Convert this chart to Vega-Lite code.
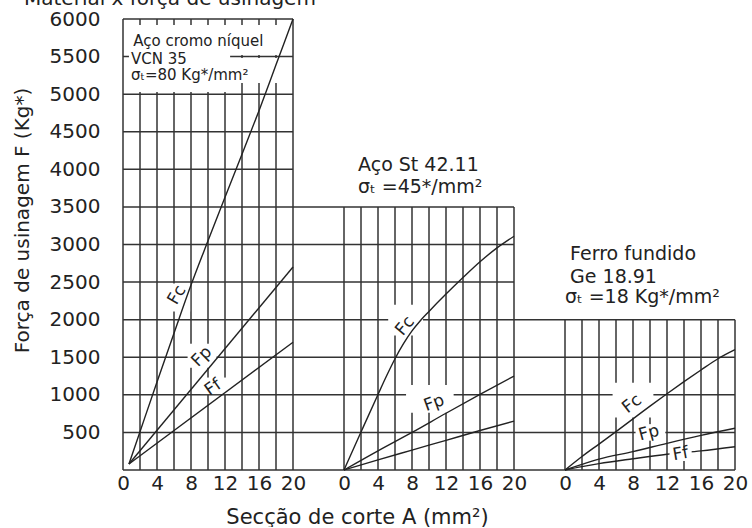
{
  "$schema": "https://vega.github.io/schema/vega-lite/v6.json",
  "background": "white",
  "padding": {"left": 12, "top": -11, "right": 0, "bottom": 0},
  "bounds": "flush",
  "spacing": 0,
  "title": {"text": "Material x força de usinagem", "anchor": "start", "fontSize": 20, "fontWeight": "normal", "font": "DejaVu Sans", "color": "#222", "offset": 0, "dx": 12},
  "config": {
    "view": {"stroke": null},
    "font": "DejaVu Sans",
    "axis": {"labelFont": "DejaVu Sans", "titleFont": "DejaVu Sans", "labelColor": "#222", "titleColor": "#222", "labelFontSize": 20, "titleFontSize": 21, "titleFontWeight": "normal", "ticks": false, "domain": false, "grid": false, "labelFlush": false}
  },
  "datasets": {
    "vg": [
      {"p":1,"a":0,"f":6000},{"p":1,"a":2,"f":6000},{"p":1,"a":4,"f":6000},{"p":1,"a":6,"f":6000},{"p":1,"a":8,"f":6000},{"p":1,"a":10,"f":6000},{"p":1,"a":12,"f":6000},{"p":1,"a":14,"f":6000},{"p":1,"a":16,"f":6000},{"p":1,"a":18,"f":6000},{"p":1,"a":20,"f":6000},
      {"p":2,"a":0,"f":3500},{"p":2,"a":2,"f":3500},{"p":2,"a":4,"f":3500},{"p":2,"a":6,"f":3500},{"p":2,"a":8,"f":3500},{"p":2,"a":10,"f":3500},{"p":2,"a":12,"f":3500},{"p":2,"a":14,"f":3500},{"p":2,"a":16,"f":3500},{"p":2,"a":18,"f":3500},{"p":2,"a":20,"f":3500},
      {"p":3,"a":0,"f":2000},{"p":3,"a":2,"f":2000},{"p":3,"a":4,"f":2000},{"p":3,"a":6,"f":2000},{"p":3,"a":8,"f":2000},{"p":3,"a":10,"f":2000},{"p":3,"a":12,"f":2000},{"p":3,"a":14,"f":2000},{"p":3,"a":16,"f":2000},{"p":3,"a":18,"f":2000},{"p":3,"a":20,"f":2000}
    ],
    "hg": [
      {"p":1,"f":0,"a":0,"a2":26},{"p":1,"f":500,"a":0,"a2":26},{"p":1,"f":1000,"a":0,"a2":26},{"p":1,"f":1500,"a":0,"a2":26},{"p":1,"f":2000,"a":0,"a2":26},{"p":1,"f":2500,"a":0,"a2":26},{"p":1,"f":3000,"a":0,"a2":26},{"p":1,"f":3500,"a":0,"a2":26},
      {"p":1,"f":4000,"a":0,"a2":20},{"p":1,"f":4500,"a":0,"a2":20},{"p":1,"f":5000,"a":0,"a2":20},{"p":1,"f":5500,"a":0,"a2":20},{"p":1,"f":6000,"a":0,"a2":20},
      {"p":2,"f":0,"a":0,"a2":26},{"p":2,"f":500,"a":0,"a2":26},{"p":2,"f":1000,"a":0,"a2":26},{"p":2,"f":1500,"a":0,"a2":26},{"p":2,"f":2000,"a":0,"a2":26},
      {"p":2,"f":2500,"a":0,"a2":20},{"p":2,"f":3000,"a":0,"a2":20},{"p":2,"f":3500,"a":0,"a2":20},
      {"p":3,"f":0,"a":0,"a2":20},{"p":3,"f":500,"a":0,"a2":20},{"p":3,"f":1000,"a":0,"a2":20},{"p":3,"f":1500,"a":0,"a2":20},{"p":3,"f":2000,"a":0,"a2":20}
    ],
    "masks": [
      {"p":1,"a":0.7,"a2":12.6,"f":5030,"f2":5920,"over":false},
      {"p":1,"a":12.6,"a2":19.3,"f":5520,"f2":5920,"over":false},
      {"p":1,"a":12.6,"a2":19.3,"f":5150,"f2":5480,"over":false},
      {"p":1,"a":4.6,"a2":7.9,"f":2110,"f2":2480,"over":false},
      {"p":1,"a":7.6,"a2":11.0,"f":1360,"f2":1680,"over":false},
      {"p":1,"a":9.1,"a2":12.2,"f":1010,"f2":1230,"over":false},
      {"p":2,"a":5.2,"a2":9.3,"f":1790,"f2":2200,"over":false},
      {"p":2,"a":7.3,"a2":12.9,"f":760,"f2":1130,"over":false},
      {"p":3,"a":5.6,"a2":10.4,"f":700,"f2":1160,"over":false},
      {"p":3,"a":8.3,"a2":11.8,"f":390,"f2":610,"over":false},
      {"p":3,"a":12.3,"a2":14.9,"f":120,"f2":300,"over":true}
    ],
    "curves": [
      {"p":1,"s":"Fc","a":0.7,"f":80},{"p":1,"s":"Fc","a":2,"f":510},{"p":1,"s":"Fc","a":4,"f":1170},{"p":1,"s":"Fc","a":6,"f":1820},{"p":1,"s":"Fc","a":8,"f":2460},{"p":1,"s":"Fc","a":10,"f":3050},{"p":1,"s":"Fc","a":12,"f":3630},{"p":1,"s":"Fc","a":14,"f":4200},{"p":1,"s":"Fc","a":16,"f":4780},{"p":1,"s":"Fc","a":18,"f":5390},{"p":1,"s":"Fc","a":20,"f":6000},
      {"p":1,"s":"Fp","a":0.7,"f":80},{"p":1,"s":"Fp","a":20,"f":2700},
      {"p":1,"s":"Ff","a":0.7,"f":80},{"p":1,"s":"Ff","a":20,"f":1700},
      {"p":2,"s":"Fc","a":0,"f":0},{"p":2,"s":"Fc","a":2,"f":505},{"p":2,"s":"Fc","a":4,"f":1005},{"p":2,"s":"Fc","a":5,"f":1250},{"p":2,"s":"Fc","a":6,"f":1480},{"p":2,"s":"Fc","a":7,"f":1680},{"p":2,"s":"Fc","a":8,"f":1850},{"p":2,"s":"Fc","a":9,"f":1990},{"p":2,"s":"Fc","a":10,"f":2110},{"p":2,"s":"Fc","a":12,"f":2340},{"p":2,"s":"Fc","a":14,"f":2560},{"p":2,"s":"Fc","a":16,"f":2770},{"p":2,"s":"Fc","a":18,"f":2955},{"p":2,"s":"Fc","a":20,"f":3110},
      {"p":2,"s":"Fp","a":0,"f":0},{"p":2,"s":"Fp","a":4,"f":255},{"p":2,"s":"Fp","a":8,"f":500},{"p":2,"s":"Fp","a":12,"f":755},{"p":2,"s":"Fp","a":16,"f":1005},{"p":2,"s":"Fp","a":20,"f":1250},
      {"p":2,"s":"Ff","a":0,"f":0},{"p":2,"s":"Ff","a":4,"f":135},{"p":2,"s":"Ff","a":8,"f":265},{"p":2,"s":"Ff","a":12,"f":395},{"p":2,"s":"Ff","a":16,"f":525},{"p":2,"s":"Ff","a":20,"f":650},
      {"p":3,"s":"Fc","a":0,"f":0},{"p":3,"s":"Fc","a":2,"f":180},{"p":3,"s":"Fc","a":4,"f":345},{"p":3,"s":"Fc","a":6,"f":510},{"p":3,"s":"Fc","a":8,"f":680},{"p":3,"s":"Fc","a":10,"f":850},{"p":3,"s":"Fc","a":12,"f":1015},{"p":3,"s":"Fc","a":14,"f":1175},{"p":3,"s":"Fc","a":16,"f":1330},{"p":3,"s":"Fc","a":18,"f":1480},{"p":3,"s":"Fc","a":20,"f":1600},
      {"p":3,"s":"Fp","a":0,"f":0},{"p":3,"s":"Fp","a":2,"f":75},{"p":3,"s":"Fp","a":4,"f":145},{"p":3,"s":"Fp","a":8,"f":245},{"p":3,"s":"Fp","a":12,"f":355},{"p":3,"s":"Fp","a":16,"f":460},{"p":3,"s":"Fp","a":20,"f":555},
      {"p":3,"s":"Ff","a":0,"f":0},{"p":3,"s":"Ff","a":2,"f":45},{"p":3,"s":"Ff","a":4,"f":85},{"p":3,"s":"Ff","a":8,"f":150},{"p":3,"s":"Ff","a":12,"f":210},{"p":3,"s":"Ff","a":16,"f":255},{"p":3,"s":"Ff","a":20,"f":310}
    ],
    "notes": [
      {"p":1,"t":"Aço cromo níquel","a":1.2,"f":5705},
      {"p":1,"t":"VCN 35","a":0.94,"f":5466},
      {"p":1,"t":"σₜ=80 Kg*/mm²","a":0.94,"f":5253},
      {"p":2,"t":"Aço St 42.11","a":1.65,"f":4057},
      {"p":2,"t":"σₜ =45*/mm²","a":1.65,"f":3764},
      {"p":3,"t":"Ferro fundido","a":0.6,"f":2873},
      {"p":3,"t":"Ge 18.91","a":0.6,"f":2567},
      {"p":3,"t":"σₜ =18 Kg*/mm²","a":0,"f":2301}
    ],
    "labels": [
      {"p":1,"t":"Fc","a":6.35,"f":2327},
      {"p":1,"t":"Fp","a":9.26,"f":1507},
      {"p":1,"t":"Ff","a":10.6,"f":1097},
      {"p":2,"t":"Fc","a":7.18,"f":1915},
      {"p":2,"t":"Fp","a":10.6,"f":891},
      {"p":3,"t":"Fc","a":7.88,"f":878},
      {"p":3,"t":"Fp","a":9.88,"f":492},
      {"p":3,"t":"Ff","a":13.6,"f":213}
    ]
  },
  "hconcat": [
    {
      "width": 221, "height": 451,
      "encoding": {
        "x": {"field": "a", "type": "quantitative", "scale": {"domain": [0, 26]}, "axis": {"values": [0,4,8,12,16,20], "title": null, "labelPadding": 3}},
        "y": {"field": "f", "type": "quantitative", "scale": {"domain": [0, 6000]}, "axis": {"values": [500,1000,1500,2000,2500,3000,3500,4000,4500,5000,5500,6000], "format": "d", "labelPadding": 23, "title": "Força de usinagem F (Kg*)", "titleFontSize": 20, "titleAngle": 270, "titleAlign": "center", "titleBaseline": "middle", "titleX": -101, "titleY": 201}}
      },
      "layer": [
        {"data": {"name": "vg"}, "transform": [{"filter": "datum.p == 1"}], "mark": {"type": "rule", "color": "#333", "strokeWidth": 1.5}, "encoding": {"y2": {"datum": 0}}},
        {"data": {"name": "hg"}, "transform": [{"filter": "datum.p == 1"}], "mark": {"type": "rule", "color": "#333", "strokeWidth": 1.5}, "encoding": {"x2": {"field": "a2"}}},
        {"data": {"name": "masks"}, "transform": [{"filter": "datum.p == 1 && !datum.over"}], "mark": {"type": "rect", "color": "white"}, "encoding": {"x2": {"field": "a2"}, "y2": {"field": "f2"}}},
        {"data": {"name": "curves"}, "transform": [{"filter": "datum.p == 1"}], "mark": {"type": "line", "color": "#222", "strokeWidth": 1.4, "interpolate": "monotone"}, "encoding": {"detail": {"field": "s"}}},
        {"data": {"name": "notes"}, "transform": [{"filter": "datum.p == 1"}], "mark": {"type": "text", "align": "left", "baseline": "middle", "fontSize": 15, "color": "#222"}, "encoding": {"text": {"field": "t"}}},
        {"data": {"name": "labels"}, "transform": [{"filter": "datum.p == 1 && datum.t == 'Fc'"}], "mark": {"type": "text", "align": "center", "baseline": "middle", "fontSize": 17, "color": "#222", "angle": 300}, "encoding": {"text": {"field": "t"}}},
        {"data": {"name": "labels"}, "transform": [{"filter": "datum.p == 1 && datum.t == 'Fp'"}], "mark": {"type": "text", "align": "center", "baseline": "middle", "fontSize": 17, "color": "#222", "angle": 315}, "encoding": {"text": {"field": "t"}}},
        {"data": {"name": "labels"}, "transform": [{"filter": "datum.p == 1 && datum.t == 'Ff'"}], "mark": {"type": "text", "align": "center", "baseline": "middle", "fontSize": 17, "color": "#222", "angle": 325}, "encoding": {"text": {"field": "t"}}}
      ]
    },
    {
      "width": 221, "height": 451,
      "encoding": {
        "x": {"field": "a", "type": "quantitative", "scale": {"domain": [0, 26]}, "axis": {"values": [0,4,8,12,16,20], "labelPadding": 3, "title": "Secção de corte A (mm²)", "titleX": 13, "titleY": 47, "titleAlign": "center", "titleBaseline": "middle"}},
        "y": {"field": "f", "type": "quantitative", "scale": {"domain": [0, 6000]}, "axis": null}
      },
      "layer": [
        {"data": {"name": "vg"}, "transform": [{"filter": "datum.p == 2"}], "mark": {"type": "rule", "color": "#333", "strokeWidth": 1.5}, "encoding": {"y2": {"datum": 0}}},
        {"data": {"name": "hg"}, "transform": [{"filter": "datum.p == 2"}], "mark": {"type": "rule", "color": "#333", "strokeWidth": 1.5}, "encoding": {"x2": {"field": "a2"}}},
        {"data": {"name": "masks"}, "transform": [{"filter": "datum.p == 2 && !datum.over"}], "mark": {"type": "rect", "color": "white"}, "encoding": {"x2": {"field": "a2"}, "y2": {"field": "f2"}}},
        {"data": {"name": "curves"}, "transform": [{"filter": "datum.p == 2"}], "mark": {"type": "line", "color": "#222", "strokeWidth": 1.4, "interpolate": "monotone"}, "encoding": {"detail": {"field": "s"}}},
        {"data": {"name": "notes"}, "transform": [{"filter": "datum.p == 2"}], "mark": {"type": "text", "align": "left", "baseline": "middle", "fontSize": 19, "color": "#222"}, "encoding": {"text": {"field": "t"}}},
        {"data": {"name": "labels"}, "transform": [{"filter": "datum.p == 2 && datum.t == 'Fc'"}], "mark": {"type": "text", "align": "center", "baseline": "middle", "fontSize": 17, "color": "#222", "angle": 310}, "encoding": {"text": {"field": "t"}}},
        {"data": {"name": "labels"}, "transform": [{"filter": "datum.p == 2 && datum.t == 'Fp'"}], "mark": {"type": "text", "align": "center", "baseline": "middle", "fontSize": 17, "color": "#222", "angle": 340}, "encoding": {"text": {"field": "t"}}}
      ]
    },
    {
      "width": 170, "height": 451,
      "encoding": {
        "x": {"field": "a", "type": "quantitative", "scale": {"domain": [0, 20]}, "axis": {"values": [0,4,8,12,16,20], "labelPadding": 3, "title": null}},
        "y": {"field": "f", "type": "quantitative", "scale": {"domain": [0, 6000]}, "axis": null}
      },
      "layer": [
        {"data": {"name": "vg"}, "transform": [{"filter": "datum.p == 3"}], "mark": {"type": "rule", "color": "#333", "strokeWidth": 1.5}, "encoding": {"y2": {"datum": 0}}},
        {"data": {"name": "hg"}, "transform": [{"filter": "datum.p == 3"}], "mark": {"type": "rule", "color": "#333", "strokeWidth": 1.5}, "encoding": {"x2": {"field": "a2"}}},
        {"data": {"name": "masks"}, "transform": [{"filter": "datum.p == 3 && !datum.over"}], "mark": {"type": "rect", "color": "white"}, "encoding": {"x2": {"field": "a2"}, "y2": {"field": "f2"}}},
        {"data": {"name": "curves"}, "transform": [{"filter": "datum.p == 3"}], "mark": {"type": "line", "color": "#222", "strokeWidth": 1.4, "interpolate": "monotone"}, "encoding": {"detail": {"field": "s"}}},
        {"data": {"name": "masks"}, "transform": [{"filter": "datum.p == 3 && datum.over"}], "mark": {"type": "rect", "color": "white"}, "encoding": {"x2": {"field": "a2"}, "y2": {"field": "f2"}}},
        {"data": {"name": "notes"}, "transform": [{"filter": "datum.p == 3"}], "mark": {"type": "text", "align": "left", "baseline": "middle", "fontSize": 19, "color": "#222"}, "encoding": {"text": {"field": "t"}}},
        {"data": {"name": "labels"}, "transform": [{"filter": "datum.p == 3 && datum.t == 'Fc'"}], "mark": {"type": "text", "align": "center", "baseline": "middle", "fontSize": 17, "color": "#222", "angle": 322}, "encoding": {"text": {"field": "t"}}},
        {"data": {"name": "labels"}, "transform": [{"filter": "datum.p == 3 && datum.t == 'Fp'"}], "mark": {"type": "text", "align": "center", "baseline": "middle", "fontSize": 17, "color": "#222", "angle": 345}, "encoding": {"text": {"field": "t"}}},
        {"data": {"name": "labels"}, "transform": [{"filter": "datum.p == 3 && datum.t == 'Ff'"}], "mark": {"type": "text", "align": "center", "baseline": "middle", "fontSize": 17, "color": "#222", "angle": 350}, "encoding": {"text": {"field": "t"}}}
      ]
    }
  ]
}
